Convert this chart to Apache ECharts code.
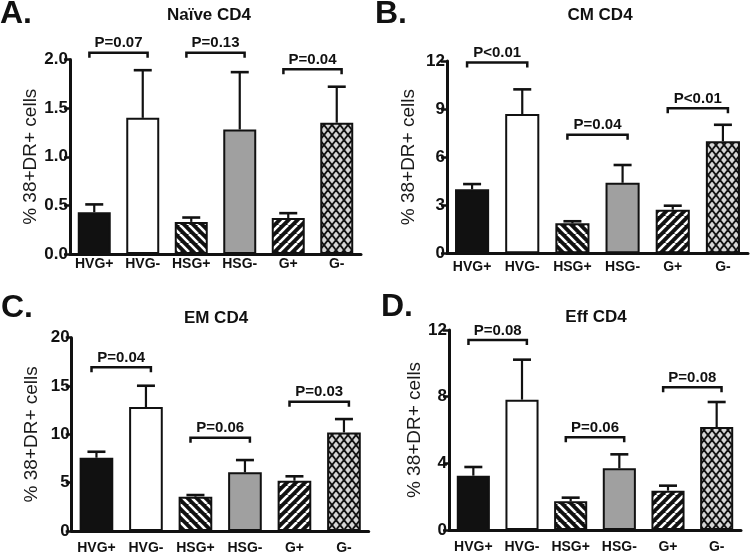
<!DOCTYPE html>
<html><head><meta charset="utf-8">
<script src="https://cdn.jsdelivr.net/npm/echarts@6/dist/echarts.min.js"></script>
<style>html,body{margin:0;padding:0;background:#fff}#c{width:750px;height:555px}</style>
</head><body><div id="c"></div>
<script>
// ---- data ----
const categories = ['HVG+', 'HVG-', 'HSG+', 'HSG-', 'G+', 'G-'];
const panelTitles = ['Naïve CD4', 'CM CD4', 'EM CD4', 'Eff CD4'];
const panelLetters = ['A.', 'B.', 'C.', 'D.'];
const yName = '% 38+DR+ cells';

const naiveMean = [0.43, 1.40, 0.33, 1.28, 0.37, 1.35];
const naiveErr  = [0.51, 1.89, 0.375, 1.87, 0.42, 1.72];
const naiveTicks = [0, 0.5, 1.0, 1.5, 2.0];
const naiveP = ['P=0.07', 'P=0.13', 'P=0.04'];
const naivePY = [2.07, 2.07, 1.90];

const cmMean = [3.99, 8.69, 1.87, 4.40, 2.72, 6.99];
const cmErr  = [4.32, 10.23, 2.0, 5.51, 2.97, 8.02];
const cmTicks = [0, 3, 6, 9, 12];
const cmP = ['P<0.01', 'P=0.04', 'P<0.01'];
const cmPY = [11.9, 7.4, 9.05];

const emMean = [7.58, 12.82, 3.55, 6.07, 5.20, 10.20];
const emErr  = [8.20, 15.03, 3.72, 7.34, 5.66, 11.58];
const emTicks = [0, 5, 10, 15, 20];
const emP = ['P=0.04', 'P=0.06', 'P=0.03'];
const emPY = [16.93, 9.65, 13.37];

const effMean = [3.26, 7.82, 1.72, 3.70, 2.36, 6.18];
const effErr  = [3.78, 10.22, 1.94, 4.54, 2.66, 7.68];
const effTicks = [0, 4, 8, 12];
const effP = ['P=0.08', 'P=0.06', 'P=0.08'];
const effPY = [11.4, 5.56, 8.56];

const pairs = [[0, 1], [2, 3], [4, 5]];

// ---- patterns ----
function stripes(forward) {
  const s = 9, c = document.createElement('canvas');
  c.width = s; c.height = s;
  const g = c.getContext('2d');
  g.fillStyle = '#111'; g.fillRect(0, 0, s, s);
  g.strokeStyle = '#fff'; g.lineWidth = 2.6;
  for (const o of [-s, 0, s]) {
    g.beginPath();
    if (forward) { g.moveTo(o, s); g.lineTo(o + s, 0); }
    else { g.moveTo(o, 0); g.lineTo(o + s, s); }
    g.stroke();
  }
  return c;
}
function crosshatch() {
  const w = 8, h = 10, c = document.createElement('canvas');
  c.width = w; c.height = h;
  const g = c.getContext('2d');
  g.fillStyle = '#d6d6d6'; g.fillRect(0, 0, w, h);
  g.strokeStyle = '#111'; g.lineWidth = 1.8;
  for (const ox of [-w, 0, w]) for (const oy of [-h, 0, h]) {
    g.beginPath(); g.moveTo(ox, oy); g.lineTo(ox + w, oy + h); g.stroke();
    g.beginPath(); g.moveTo(ox + w, oy); g.lineTo(ox, oy + h); g.stroke();
  }
  return c;
}
const fills = [
  '#111', '#fff',
  { image: stripes(false), repeat: 'repeat' },
  '#a0a0a0',
  { image: stripes(true), repeat: 'repeat' },
  { image: crosshatch(), repeat: 'repeat' }
];

const FONT = '"Liberation Sans", Arial, sans-serif';
const panels = [
  { mean: naiveMean, err: naiveErr, ticks: naiveTicks, p: naiveP, py: naivePY, dec: 1,
    grid: { left: 70, top: 59.5, width: 291, height: 194.5 }, lm: 3, gap: 28,
    title: [209, 15], letter: [0, 14] },
  { mean: cmMean, err: cmErr, ticks: cmTicks, p: cmP, py: cmPY, dec: 0,
    grid: { left: 447, top: 61, width: 301, height: 192.3 }, lm: 7, gap: 29,
    title: [600, 15], letter: [375, 14] },
  { mean: emMean, err: emErr, ticks: emTicks, p: emP, py: emPY, dec: 0,
    grid: { left: 71.7, top: 337.7, width: 297, height: 193.3 }, lm: 10, gap: 30,
    title: [216, 318], letter: [1, 308] },
  { mean: effMean, err: effErr, ticks: effTicks, p: effP, py: effPY, dec: 0,
    grid: { left: 449, top: 330, width: 292, height: 200 }, lm: 10, gap: 23,
    title: [596, 317], letter: [381, 307] }
];

const option = { animation: false, grid: [], xAxis: [], yAxis: [], series: [], graphic: [] };

panels.forEach((P, k) => {
  option.grid.push(Object.assign({ containLabel: false }, P.grid));
  option.xAxis.push({
    type: 'category', gridIndex: k, data: categories,
    axisLine: { lineStyle: { color: '#111', width: 3 } },
    axisTick: { show: false },
    axisLabel: { color: '#111', fontFamily: FONT, fontWeight: 'bold', fontSize: 14, margin: P.lm, interval: 0 }
  });
  const t = P.ticks;
  option.yAxis.push({
    type: 'value', gridIndex: k, min: t[0], max: t[t.length - 1], interval: t[1] - t[0],
    name: yName, nameLocation: 'middle', nameGap: P.gap,
    nameTextStyle: { color: '#1a1a1a', fontFamily: FONT, fontSize: 19 },
    axisLine: { show: true, lineStyle: { color: '#111', width: 3 } },
    axisTick: { show: true, length: 6, lineStyle: { color: '#111', width: 2.5 } },
    splitLine: { show: false },
    axisLabel: { color: '#111', fontFamily: '"Liberation Sans Narrow", "Liberation Sans", Arial', fontWeight: 'bold', fontSize: 17, margin: 2,
      formatter: v => v.toFixed(P.dec) }
  });
  option.series.push({
    type: 'bar', xAxisIndex: k, yAxisIndex: k, barWidth: '68%',
    data: P.mean.map((v, i) => ({ value: v, itemStyle: { color: fills[i] } })),
    itemStyle: { borderColor: '#111', borderWidth: 2 }
  });
  option.series.push({
    type: 'custom', xAxisIndex: k, yAxisIndex: k, z: 3,
    data: P.mean.map((v, i) => [i, v, P.err[i]]),
    renderItem(params, api) {
      const a = api.coord([api.value(0), api.value(1)]);
      const b = api.coord([api.value(0), api.value(2)]);
      return { type: 'group', children: [
        { type: 'line', shape: { x1: a[0], y1: a[1], x2: b[0], y2: b[1] }, style: { stroke: '#111', lineWidth: 2.2 } },
        { type: 'line', shape: { x1: b[0] - 9, y1: b[1], x2: b[0] + 9, y2: b[1] }, style: { stroke: '#111', lineWidth: 2.6 } }
      ] };
    }
  });
  option.series.push({
    type: 'custom', xAxisIndex: k, yAxisIndex: k, z: 4, clip: false,
    data: pairs.map((pr, i) => [pr[0], pr[1], P.py[i]]),
    renderItem(params, api) {
      const a = api.coord([api.value(0), api.value(2)]);
      const b = api.coord([api.value(1), api.value(2)]);
      const bw = api.size([1, 0])[0];
      const mid = (a[0] + b[0]) / 2, half = bw * 0.6, y = a[1];
      return { type: 'group', children: [
        { type: 'polyline', shape: { points: [[mid - half, y + 5], [mid - half, y], [mid + half, y], [mid + half, y + 5]] },
          style: { stroke: '#111', lineWidth: 2.5, fill: null } },
        { type: 'text', x: mid, y: y - 2,
          style: { text: P.p[params.dataIndex], align: 'center', verticalAlign: 'bottom',
            font: 'bold 15px ' + FONT, fill: '#111' } }
      ] };
    }
  });
  option.graphic.push({ type: 'text', x: P.title[0], y: P.title[1],
    style: { text: panelTitles[k], align: 'center', verticalAlign: 'middle', font: 'bold 17px ' + FONT, fill: '#111' } });
  option.graphic.push({ type: 'text', x: P.letter[0], y: P.letter[1],
    style: { text: panelLetters[k], align: 'left', verticalAlign: 'middle', font: 'bold 32px ' + FONT, fill: '#111' } });
});

const chart = echarts.init(document.getElementById('c'), null, { renderer: 'canvas' });
chart.setOption(option);
</script>
</body></html>
